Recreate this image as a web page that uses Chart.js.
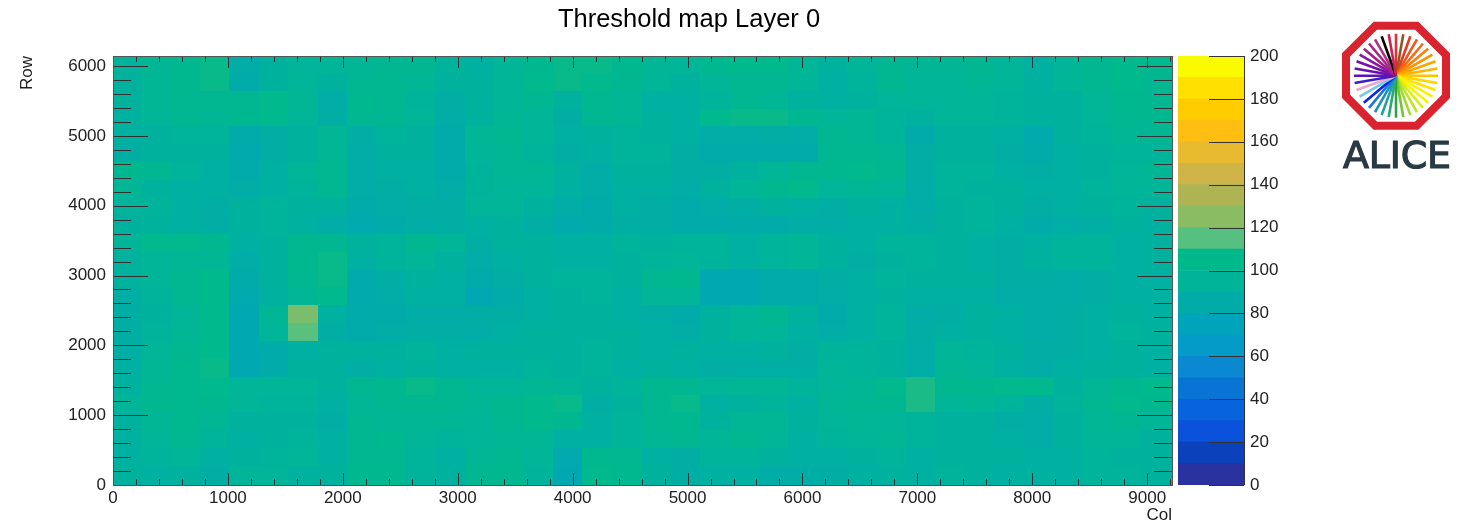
<!DOCTYPE html>
<html><head><meta charset="utf-8">
<script src="https://cdn.jsdelivr.net/npm/chart.js@4"></script>
<style>
html,body{margin:0;padding:0;background:#fff;width:1461px;height:526px;overflow:hidden}
canvas{position:absolute;display:block}
#logo{position:absolute;left:0;top:0}
</style></head><body>
<canvas id="map" width="1378" height="526" style="left:0;top:0;width:1378px;height:526px"></canvas>
<canvas id="bar" width="128" height="526" style="left:1172px;top:0;width:128px;height:526px"></canvas>
<svg id="logo" width="1461" height="526" xmlns="http://www.w3.org/2000/svg" style="pointer-events:none"></svg>
<script>
const titleText = "Threshold map Layer 0";
const xTitle = "Col";
const yTitle = "Row";
const binSize = 256;
const colCount = 36;
const tickStep = 200;
const labelStep = 1000;

// Mean threshold per 256x256 block, top row first
const rowsTopDown = [
[94,98,102,106, 86,92,96,96, 98,100,100,94, 90,96,102,106, 106,102,98,96, 102,104,104,98, 92,96,100,98, 98,100,96,90, 96,100,104,102],
[92,98,102,106, 84,92,96,92, 100,100,98,92, 92,96,104,106, 104,100,96,92, 96,100,100,96, 90,94,100,96, 96,98,96,90, 96,100,104,100],
[92,98,100,100, 100,104,98,86, 102,100,94,88, 92,96,100,92, 100,98,90,90, 94,100,98,92, 90,92,96,96, 96,96,94,92, 92,98,102,100],
[92,96,100,98, 102,104,96,88, 100,100,96,86, 92,98,96,88, 100,98,92,90, 104,106,106,102, 96,98,94,92, 96,96,94,92, 92,96,100,102],
[90,92,94,94, 84,88,92,98, 88,94,92,84, 98,100,96,90, 92,94,92,90, 86,86,88,86, 100,98,94,84, 92,92,90,82, 92,94,98,98],
[88,92,92,92, 82,88,92,98, 86,92,92,84, 96,98,94,88, 90,94,94,88, 84,84,84,84, 100,100,98,88, 92,92,88,84, 90,92,94,94],
[102,100,94,90, 84,90,96,100, 86,90,90,84, 94,98,98,92, 86,92,92,88, 88,92,96,100, 102,104,100,88, 94,94,90,88, 90,92,96,98],
[98,92,90,90, 86,90,94,100, 86,88,90,86, 94,96,96,90, 86,90,90,86, 92,96,102,104, 96,98,96,86, 94,92,92,90, 90,94,96,96],
[94,94,90,88, 92,94,92,92, 84,86,88,88, 96,96,92,86, 84,90,88,84, 86,88,92,90, 88,92,90,86, 92,94,92,88, 90,92,94,92],
[92,92,90,88, 92,94,90,86, 82,84,86,88, 90,92,88,82, 84,88,88,84, 84,84,84,86, 86,90,90,88, 92,94,90,84, 86,88,92,90],
[96,104,104,102, 90,92,100,100, 92,94,100,96, 88,92,92,90, 90,94,92,94, 94,90,94,96, 92,90,94,94, 92,90,88,90, 94,94,90,92],
[92,96,98,98, 86,92,102,106, 90,94,96,92, 86,90,92,90, 90,92,94,96, 94,90,94,96, 92,88,92,94, 92,90,88,92, 94,94,90,92],
[92,96,100,104, 84,92,100,106, 82,88,92,90, 84,88,92,94, 94,92,100,102, 80,80,84,84, 88,90,94,92, 92,92,88,88, 86,88,90,90],
[88,94,100,104, 82,90,98,104, 82,86,90,90, 80,84,90,92, 94,90,96,96, 80,80,84,84, 86,90,92,90, 90,90,86,86, 86,88,90,90],
[88,92,96,104, 80,98,122,90, 84,84,86,86, 88,88,90,92, 92,90,88,84, 92,96,100,92, 84,90,94,86, 88,92,90,86, 88,90,92,90],
[88,94,98,104, 80,96,116,88, 84,86,88,88, 86,90,92,92, 92,92,90,86, 92,96,96,90, 86,90,94,88, 90,92,90,86, 88,90,94,92],
[88,96,100,104, 80,84,90,92, 92,92,94,90, 92,92,92,92, 94,92,90,92, 90,90,92,88, 94,94,92,86, 96,94,92,88, 88,90,92,90],
[90,98,102,106, 80,84,92,92, 88,90,92,90, 90,90,94,92, 94,90,92,90, 88,88,88,88, 96,94,92,86, 98,96,90,86, 90,92,92,90],
[92,100,102,104, 96,96,96,92, 100,102,106,100, 96,96,98,96, 92,94,102,100, 96,98,98,94, 96,98,104,108, 102,102,104,104, 92,98,102,104],
[96,102,102,102, 96,94,94,90, 98,100,102,100, 98,102,104,106, 88,92,100,106, 90,92,94,90, 98,100,100,108, 96,98,94,88, 94,100,104,102],
[92,98,102,98, 92,92,92,88, 100,98,98,98, 96,100,104,102, 90,94,100,102, 92,98,98,92, 96,98,96,94, 92,92,88,86, 92,98,100,96],
[90,96,100,94, 90,92,94,90, 100,102,96,94, 96,98,98,90, 90,94,98,100, 96,100,96,90, 94,96,98,94, 92,92,90,86, 92,96,96,92],
[90,94,96,90, 92,94,96,90, 100,100,94,90, 98,100,96,82, 102,100,90,88, 94,94,92,90, 90,92,94,90, 92,92,92,90, 90,94,92,92],
[92,90,92,88, 96,96,92,92, 102,102,94,92, 100,102,94,80, 104,102,92,88, 90,90,86,86, 88,90,92,90, 94,92,90,90, 90,94,94,92]
];

// Palette bands of the colour bar (0-200, step 10)
const zBandWidth = [10,10,10,10,10,10,10,10,10,10,10,10,10,10,10,10,10,10,10,10];
const zBandColors = ["#2a32a0","#0b42bc","#0a52dc","#0864dc","#0874d4","#0a88d0","#059bc8","#00a4ba","#00aca8","#00b49a","#00b98a","#55c080","#8abc64","#aeb454","#d0b448","#e8ba30","#ffbe10","#ffcc00","#ffe000","#fbfb00"];

const rayColors = ["#e0303a","#8c5a1e","#e23a20","#f0561a","#f56c10","#f88008","#fa9200","#fca400","#fdb400","#fdc400","#fed400","#ffe200","#fff000","#f4f400","#dcee10","#c0e420","#a0da30","#72c82c","#2ea43a","#2aa878","#20a0a0","#1c90c0","#1a78d8","#0a24e8","#72c8e8","#e8a8c8","#3a1ec8","#5a14b8","#6a10b0","#7a10a8","#88189c","#a0208c","#a82888","#b03088","#000000","#d02050"];

function hexRgb(h){return [1,3,5].map(i=>parseInt(h.substr(i,2),16));}
function colorFor(v){
  const t=Math.max(0,Math.min(zBandColors.length-1,(v-5)/10));
  const i=Math.floor(t), j=Math.min(i+1,zBandColors.length-1), f=t-i;
  const a=hexRgb(zBandColors[i]), b=hexRgb(zBandColors[j]);
  return `rgb(${a.map((c,k)=>Math.round(c+(b[k]-c)*f)).join(',')})`;
}

const cells=[];
rowsTopDown.forEach((row,r)=>{
  const rowIndex=rowsTopDown.length-1-r;
  row.forEach((v,c)=>cells.push({x:(c+0.5)*binSize,y:(rowIndex+0.5)*binSize,v}));
});

const styleCache={};
function cellStyle(ctx){
  const raw=ctx.raw; if(!raw) return 'rect';
  const sx=ctx.chart.scales.x, sy=ctx.chart.scales.y;
  const w=Math.ceil(Math.abs(sx.getPixelForValue(binSize)-sx.getPixelForValue(0)))+2;
  const h=Math.ceil(Math.abs(sy.getPixelForValue(binSize)-sy.getPixelForValue(0)))+2;
  const key=raw.v+'_'+w+'_'+h;
  if(!styleCache[key]){
    const c=document.createElement('canvas');c.width=w;c.height=h;
    const g=c.getContext('2d');g.fillStyle=colorFor(raw.v);g.fillRect(0,0,w,h);
    styleCache[key]=c;
  }
  return styleCache[key];
}

const tickFont={family:'"Liberation Sans"',size:17};
const inkColor='#222';

function fixedTicks(s){
  const out=[];
  for(let v=0;v<=s.max;v+=tickStep) out.push({value:v});
  s.ticks=out;
}
const tickLabel=v=>v%labelStep===0?String(v):'';

const framePlugin={id:'frameTicks',afterDraw(chart){
  const {ctx,chartArea:a,scales:{x,y}}=chart;
  ctx.save();ctx.strokeStyle='#333';ctx.lineWidth=1;ctx.beginPath();
  x.ticks.forEach(t=>{
    const p=Math.round(x.getPixelForValue(t.value))+.5, L=t.value%labelStep===0?12:6;
    ctx.moveTo(p,a.bottom);ctx.lineTo(p,a.bottom-L);
    ctx.moveTo(p,a.top);ctx.lineTo(p,a.top+L);
  });
  y.ticks.forEach(t=>{
    const p=Math.round(y.getPixelForValue(t.value))+.5, L=t.value%labelStep===0?35:18;
    ctx.moveTo(a.left,p);ctx.lineTo(a.left+L,p);
    ctx.moveTo(a.right,p);ctx.lineTo(a.right-L,p);
  });
  ctx.stroke();
  ctx.strokeStyle='#555';
  ctx.strokeRect(Math.round(a.left)+.5,Math.round(a.top)+.5,Math.round(a.right-a.left),Math.round(a.bottom-a.top));
  ctx.restore();
}};

new Chart(document.getElementById('map'),{
  type:'scatter',
  data:{datasets:[{data:cells,pointStyle:cellStyle,pointRadius:1,pointHoverRadius:1,pointBorderWidth:0,showLine:false}]},
  options:{
    responsive:false,animation:false,events:[],
    layout:{padding:{left:0,right:0,top:0,bottom:0}},
    plugins:{legend:{display:false},tooltip:{enabled:false},
      title:{display:true,text:titleText,color:'#000',font:{family:'"Liberation Sans"',size:25.5,weight:'normal'},padding:{top:5,bottom:20.4},
             fullSize:true}},
    scales:{
      x:{type:'linear',min:0,max:9216,
        afterBuildTicks:fixedTicks,
        afterFit(s){s.height=41;},
        grid:{display:false,drawTicks:false},border:{display:false},
        title:{display:true,text:xTitle,align:'end',color:inkColor,font:{family:'"Liberation Sans"',size:17},padding:{top:0,bottom:0}},
        ticks:{autoSkip:false,maxRotation:0,padding:3,color:inkColor,font:tickFont,callback:tickLabel}},
      y:{type:'linear',min:0,max:6144,
        afterBuildTicks:fixedTicks,
        afterFit(s){s.width=113;},
        grid:{display:false,drawTicks:false},border:{display:false},
        title:{display:true,text:yTitle,align:'end',color:inkColor,font:{family:'"Liberation Sans"',size:17},padding:{top:17,bottom:0}},
        ticks:{autoSkip:false,padding:7,color:inkColor,font:tickFont,callback:tickLabel}},
      spacer:{type:'linear',position:'right',display:true,
        afterFit(s){s.width=206;},
        grid:{display:false,drawTicks:false},border:{display:false},ticks:{display:false}}
    }
  },
  plugins:[framePlugin]
});

const barTicks={id:'barTicks',afterDraw(chart){
  const {ctx,chartArea:a,scales:{y}}=chart;
  ctx.save();ctx.strokeStyle='#333';ctx.lineWidth=1;ctx.beginPath();
  y.ticks.forEach(t=>{const p=Math.round(y.getPixelForValue(t.value))+.5;ctx.moveTo(a.right,p);ctx.lineTo(a.right-35,p);});
  ctx.moveTo(Math.round(a.right)+.5,a.top);ctx.lineTo(Math.round(a.right)+.5,a.bottom);
  ctx.stroke();ctx.restore();
}};

new Chart(document.getElementById('bar'),{
  type:'bar',
  data:{labels:['z'],datasets:zBandWidth.map((w,i)=>({data:[w],backgroundColor:zBandColors[i],borderWidth:0,barPercentage:1,categoryPercentage:1}))},
  options:{
    responsive:false,animation:false,events:[],
    layout:{padding:{left:6,right:0,top:56,bottom:41}},
    plugins:{legend:{display:false},tooltip:{enabled:false},title:{display:false}},
    scales:{
      x:{stacked:true,display:false},
      y:{stacked:true,position:'right',min:0,max:200,
        afterFit(s){s.width=56;},
        grid:{display:false,drawTicks:false},border:{display:false},
        ticks:{stepSize:20,padding:6,color:inkColor,font:tickFont}}
    }
  },
  plugins:[barTicks]
});

// ALICE logo
const svg=document.getElementById('logo');
const cx=1396,cy=75.7;
let s=`<polygon transform="translate(${cx} ${cy})" points="-20.7,-50 20.7,-50 50,-20.7 50,20.7 20.7,50 -20.7,50 -50,20.7 -50,-20.7" fill="#fff" stroke="#d9232e" stroke-width="8"/>`;
rayColors.forEach((c,i)=>{s+=`<line transform="translate(${cx} ${cy}) rotate(${i*10})" x1="0" y1="0" x2="0" y2="-42" stroke="${c}" stroke-width="2.6"/>`;});
s+=`<text x="1343" y="168" textLength="108" lengthAdjust="spacing" font-family="DejaVu Sans" font-size="38" fill="#2a3a44" stroke="#2a3a44" stroke-width="1.2">ALICE</text>`;
svg.innerHTML=s;
</script>
</body></html>
